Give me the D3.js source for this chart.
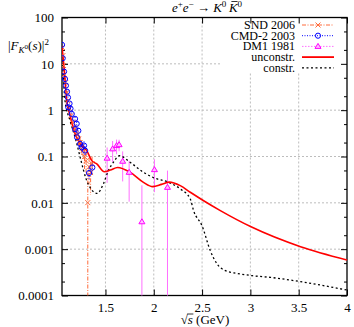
<!DOCTYPE html>
<html>
<head>
<meta charset="utf-8">
<style>
body { margin: 0; background: #fff; }
text { font-family: "Liberation Serif", serif; fill: #000; }
</style>
</head>
<body>
<svg width="354" height="327"></svg>
<script src="https://cdn.jsdelivr.net/npm/d3@7"></script>
<script>

// ---- data (sqrt(s) in GeV, |F|^2) ----
var sndS   = [1.055, 1.06, 1.066, 1.076, 1.086, 1.102, 1.112, 1.128, 1.143, 1.164, 1.185, 1.206, 1.221, 1.237, 1.252, 1.268, 1.283, 1.299, 1.317, 1.330, 1.346, 1.361];
var sndV   = [22.5, 15.1, 9.2, 5.9, 3.9, 2.4, 1.6, 1.08, 0.76, 0.54, 0.40, 0.30, 0.24, 0.20, 0.164, 0.134, 0.099, 0.081, 0.0101, 0.060, 0.045, 0.070];
var sndErr = [1.2, 0.8, 0.5, 0.35, 0.25, 0.18, 0.14, 0.12, 0.1, 0.09, 0.08, 0.08, 0.07, 0.07, 0.06, 0.05, 0.045, 0.04, 0.035, 0.035, 0.03, 0.03];

var cmdS   = [1.05, 1.057, 1.071, 1.081, 1.091, 1.102, 1.112, 1.115, 1.128, 1.138, 1.151, 1.185, 1.185, 1.202, 1.206, 1.219, 1.237, 1.254, 1.278, 1.289, 1.330, 1.364];
var cmdV   = [25.7, 13.2, 6.8, 4.7, 3.4, 2.5, 1.87, 1.16, 1.39, 1.08, 0.83, 0.65, 0.39, 0.51, 0.26, 0.36, 0.187, 0.158, 0.172, 0.134, 0.044, 0.058];
var cmdErr = [0.8, 0.5, 0.3, 0.2, 0.15, 0.12, 0.1, 0.08, 0.08, 0.07, 0.06, 0.06, 0.05, 0.05, 0.04, 0.05, 0.04, 0.04, 0.04, 0.03, 0.012, 0.015];

var dm1S   = [1.517, 1.574, 1.615, 1.641, 1.678, 1.745, 1.877, 2.007, 2.142];
var dm1V   = [0.092, 0.146, 0.172, 0.18, 0.079, 0.0456, 0.0039, 0.052, 0.0216];
var dm1Err = [0.065, 0.07, 0.06, 0.05, 0.05, 0.035, 0.02, 0.035, 0.028];

var unconS = [1.05, 1.074, 1.099, 1.135, 1.174, 1.237, 1.306, 1.358, 1.410, 1.489, 1.55, 1.626, 1.755, 1.893, 1.989, 2.08, 2.16, 2.274, 2.378, 2.516, 2.689, 3.018, 3.519, 4.0];
var unconV = [24, 7.2, 1.61, 0.75, 0.36, 0.19, 0.134, 0.0815, 0.069, 0.047, 0.051, 0.058, 0.0456, 0.0277, 0.0224, 0.025, 0.028, 0.0235, 0.0169, 0.0111, 0.0068, 0.00296, 0.00113, 0.000585];

var conS = [1.05, 1.081, 1.133, 1.195, 1.247, 1.299, 1.351, 1.413, 1.478, 1.530, 1.582, 1.646, 1.755, 1.893, 1.997, 2.153, 2.274, 2.378, 2.412, 2.499, 2.585, 2.655, 2.741, 2.862, 3.018, 3.208, 3.519, 4.0];
var conV = [24, 1.61, 0.6, 0.22, 0.081, 0.033, 0.0198, 0.016, 0.0256, 0.0496, 0.075, 0.104, 0.075, 0.0456, 0.035, 0.0277, 0.02, 0.0121, 0.0068, 0.00322, 0.00093, 0.00048, 0.000344, 0.0003, 0.000268, 0.000246, 0.000199, 0.000131];

var yMajor = [100, 10, 1, 0.1, 0.01, 0.001, 0.0001];
var yMinor = [50, 20, 5, 2, 0.5, 0.2, 0.05, 0.02, 0.005, 0.002, 0.0005, 0.0002];
var xMajor = [1.5, 2, 2.5, 3, 3.5, 4];

var legendNames = ["SND 2006", "CMD-2 2003", "DM1 1981", "unconstr.", "constr."];

// ---- layout ----
var svg = d3.select("svg"),
    pL = 62, pR = 347, pT = 17.5, pB = 295.5;

var x = d3.scaleLinear().domain([1.05, 4]).range([pL, pR]);
var y = d3.scaleLog().domain([0.0001, 100]).range([pB, pT]);

var cOrange = "#ff6a3a", cBlue = "#0000ff", cMag = "#ff00ff", cPink = "#ff70ff", cRed = "#ff0000";

svg.append("defs").append("clipPath").attr("id", "clip")
  .append("rect").attr("x", pL).attr("y", pT).attr("width", pR - pL).attr("height", pB - pT);

// grid
var grid = svg.append("g").attr("stroke", "#bdbdbd").attr("stroke-dasharray", "2,2").attr("stroke-width", 1);
grid.selectAll(".gx").data(xMajor.slice(0, -1)).enter().append("line")
  .attr("x1", d => x(d)).attr("x2", d => x(d)).attr("y1", pT).attr("y2", pB);
grid.selectAll(".gy").data(yMajor.slice(1, -1)).enter().append("line")
  .attr("x1", pL).attr("x2", pR).attr("y1", d => y(d)).attr("y2", d => y(d));

// key box hides grid behind it
svg.append("rect").attr("x", 222).attr("y", pT).attr("width", pR - 222).attr("height", 55).attr("fill", "#fff");

// ticks (gnuplot style: inward, mirrored)
function ticks(axis, vals, size, pad, fmt) {
  return axis.tickValues(vals).tickSizeInner(-size).tickSizeOuter(0).tickPadding(pad).tickFormat(fmt);
}
var fy = d3.format("~g");
svg.append("g").attr("transform", "translate(" + pL + ",0)").call(ticks(d3.axisLeft(y), yMajor, 6, 8, fy));
svg.append("g").attr("transform", "translate(" + pL + ",0)").call(ticks(d3.axisLeft(y), yMinor, 3, 8, ""));
svg.append("g").attr("transform", "translate(" + pR + ",0)").call(ticks(d3.axisRight(y), yMajor, 6, 8, ""));
svg.append("g").attr("transform", "translate(" + pR + ",0)").call(ticks(d3.axisRight(y), yMinor, 3, 8, ""));
svg.append("g").attr("transform", "translate(0," + pB + ")").call(ticks(d3.axisBottom(x), xMajor, 6, 7, d3.format("~g")));
svg.append("g").attr("transform", "translate(0," + pT + ")").call(ticks(d3.axisTop(x), xMajor, 6, 7, ""));
svg.selectAll(".domain").remove();
svg.selectAll(".tick line").attr("stroke", "#000");
svg.selectAll(".tick text").attr("font-size", 13).attr("font-family", "Liberation Serif").attr("fill", "#000");

// border
svg.append("rect").attr("x", pL).attr("y", pT).attr("width", pR - pL).attr("height", pB - pT)
  .attr("fill", "none").attr("stroke", "#000").attr("stroke-width", 1.3);

var plot = svg.append("g").attr("clip-path", "url(#clip)");

function ebars(S, V, E, color, dash) {
  plot.append("g").selectAll("line").data(S).enter().append("line")
    .attr("x1", d => x(d)).attr("x2", d => x(d))
    .attr("y1", (d, i) => y(Math.max(V[i] + E[i], 1e-6)))
    .attr("y2", (d, i) => V[i] - E[i] > 0 ? y(V[i] - E[i]) : pB + 5)
    .attr("stroke", color).attr("stroke-width", 1).attr("stroke-dasharray", dash);
}
ebars(sndS, sndV, sndErr, cOrange, "4,1.5,1,1.5");
ebars(cmdS, cmdV, cmdErr, cBlue, "1,1.5");
ebars(dm1S, dm1V, dm1Err, cPink, null);

var line = d3.line().x(d => x(d[0])).y(d => y(d[1])).curve(d3.curveMonotoneX);

plot.append("path").datum(d3.zip(conS, conV)).attr("d", line)
  .attr("fill", "none").attr("stroke", "#000").attr("stroke-width", 1.3).attr("stroke-dasharray", "2,2.5");
plot.append("path").datum(d3.zip(unconS, unconV)).attr("d", line)
  .attr("fill", "none").attr("stroke", cRed).attr("stroke-width", 1.6);

// markers
function cross(g, cx, cy, color) {
  g.append("path").attr("d", "M" + (cx - 2.5) + "," + (cy - 2.5) + "l5,5M" + (cx - 2.5) + "," + (cy + 2.5) + "l5,-5")
    .attr("stroke", color).attr("stroke-width", 1).attr("fill", "none");
}
function circ(g, cx, cy, color) {
  g.append("circle").attr("cx", cx).attr("cy", cy).attr("r", 2.6)
    .attr("stroke", color).attr("stroke-width", 1).attr("fill", "none");
}
function tri(g, cx, cy, color) {
  g.append("path").attr("d", "M" + cx + "," + (cy - 3) + "l3,5h-6z")
    .attr("stroke", color).attr("stroke-width", 1).attr("fill", "#ffc0ff");
}
sndS.forEach((d, i) => cross(plot, x(d), y(sndV[i]), cOrange));
cmdS.forEach((d, i) => circ(plot, x(d), y(cmdV[i]), cBlue));
dm1S.forEach((d, i) => tri(plot, x(d), y(dm1V[i]), cMag));

// key
var key = svg.append("g");
var kx0 = 302, kx1 = 334, ky0 = 25, kdy = 10.7;
var keyStyle = [
  {c: cOrange, dash: "4,1.5,1,1.5", w: 1, m: cross},
  {c: cBlue, dash: "1,1.5", w: 1, m: circ},
  {c: cPink, dash: "1.5,1.5", w: 1, m: tri},
  {c: cRed, dash: null, w: 1.8, m: null},
  {c: "#000", dash: "2,2.5", w: 1.3, m: null}
];
legendNames.forEach(function (n, i) {
  var yy = ky0 + i * kdy, s = keyStyle[i];
  key.append("text").attr("x", 295).attr("y", yy).attr("dy", "0.33em").attr("text-anchor", "end")
    .attr("font-size", 12).text(n);
  key.append("line").attr("x1", kx0).attr("x2", kx1).attr("y1", yy).attr("y2", yy)
    .attr("stroke", s.c).attr("stroke-width", s.w).attr("stroke-dasharray", s.dash);
  if (s.m) s.m(key, (kx0 + kx1) / 2, yy, i == 2 ? cMag : s.c);
});

// rich text helper: segments [text, italic, shift, size]
function rich(g, px, py, anchor, size, segs) {
  var t = g.append("text").attr("x", px).attr("y", py).attr("text-anchor", anchor).attr("font-size", size);
  var prev = 0;
  segs.forEach(function (s) {
    var sh = s[2] || 0;
    t.append("tspan").attr("dy", sh - prev).attr("font-style", s[1] ? "italic" : null)
      .attr("font-size", s[3] || size).text(s[0]);
    prev = sh;
  });
  return t;
}

rich(svg, 207, 12, "middle", 13, [
  ["e", 1], ["+", 0, -5, 9], ["e", 1], ["\u2212", 0, -5, 9], [" \u2192 ", 0], ["K", 1], ["0", 0, -5, 9], ["\u2009K", 1], ["0", 0, -5, 9]
]);
// bar over the second K
var tt = svg.selectAll("text").filter(function () { return this.textContent.indexOf("\u2192") >= 0; }).node();
var kb = tt.getExtentOfChar(tt.textContent.lastIndexOf("K"));
svg.append("line").attr("x1", kb.x + 2.5).attr("x2", kb.x + kb.width).attr("y1", kb.y + 1.5).attr("y2", kb.y + 1.5)
  .attr("stroke", "#000").attr("stroke-width", 0.8);

rich(svg, 8, 50, "start", 13, [
  ["|", 0], ["F", 1], ["K", 1, 3, 9], ["0", 0, -1, 7], ["(", 0], ["s", 1], [")|", 0], ["2", 0, -5, 9]
]);

var xl = rich(svg, 205, 324, "middle", 13, [["\u221A", 0], ["s", 1], [" (GeV)", 0]]).node();
var rb = xl.getExtentOfChar(0), sb = xl.getExtentOfChar(1);
svg.append("line").attr("x1", rb.x + rb.width - 0.5).attr("x2", sb.x + sb.width + 0.5)
  .attr("y1", rb.y + 2).attr("y2", rb.y + 2).attr("stroke", "#000").attr("stroke-width", 0.8);

</script>
</body>
</html>
